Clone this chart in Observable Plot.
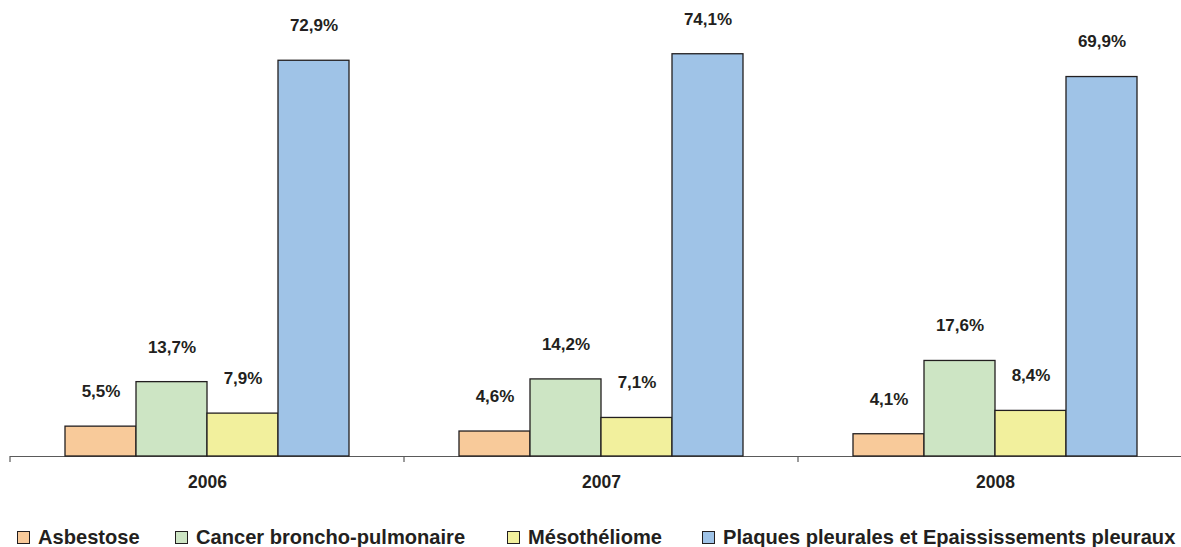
<!DOCTYPE html>
<html>
<head>
<meta charset="utf-8">
<script src="https://cdn.jsdelivr.net/npm/d3@7"></script>
<script src="https://cdn.jsdelivr.net/npm/@observablehq/plot@0.6"></script>
<style>
  html, body { margin: 0; padding: 0; background: #fff; overflow: hidden; }
  body { width: 1181px; height: 547px; font-family: "Liberation Sans", Arial, sans-serif; }
  #chart { width: 1181px; overflow: hidden; height: 505px; }
  #chart svg { max-width: none !important; }
  #legend { position: relative; height: 42px; width: 1181px; }
  .item { position: absolute; top: 21px; display: flex; align-items: center; font-weight: bold; font-size: 20.1px; color: #231f20; white-space: nowrap; }
  .sw { width: 11px; height: 11px; border: 1px solid #231f20; margin-right: 8px; }
</style>
</head>
<body>
<div id="chart"></div>
<div id="legend"></div>
<script>
const years = ["2006", "2007", "2008"];
const series = ["Asbestose", "Cancer broncho-pulmonaire", "Mésothéliome", "Plaques pleurales et Epaississements pleuraux"];
const asbestose = [5.5, 4.6, 4.1];
const cancer = [13.7, 14.2, 17.6];
const mesotheliome = [7.9, 7.1, 8.4];
const plaques = [72.9, 74.1, 69.9];
const colors = ["#f8ca9a", "#cde5c4", "#f2f09d", "#9fc3e7"];

const valuesBySerie = [asbestose, cancer, mesotheliome, plaques];
const data = [];
years.forEach((yr, i) => {
  series.forEach((s, j) => data.push({year: yr, serie: s, value: valuesBySerie[j][i]}));
});
const fmt = v => v.toFixed(1).replace(".", ",") + "%";

const chart = Plot.plot({
  width: 1192,
  height: 505,
  marginLeft: 10,
  marginRight: 0,
  marginTop: 0,
  marginBottom: 49,
  style: {fontFamily: "'Liberation Sans', Arial, sans-serif", background: "#fff", maxWidth: "none"},
  fx: {domain: years, padding: 0, label: null},
  x: {domain: series, paddingInner: 0, paddingOuter: 0.75, axis: null},
  y: {domain: [0, 84], axis: null},
  color: {domain: series, range: colors},
  marks: [
    Plot.ruleY([0], {stroke: "#5a5a5a", strokeWidth: 1.2}),
    Plot.barY(data, {fx: "year", x: "serie", y: "value", fill: "serie", stroke: "#231f20", strokeWidth: 1.3}),
    Plot.text(data, {fx: "year", x: "serie", y: "value", text: d => fmt(d.value), dy: -35, fontSize: 17, fontWeight: "bold", fill: "#231f20"}),
    Plot.axisFx({anchor: "bottom", tickSize: 0, tickPadding: 19, label: null, fontSize: 17.5, fontWeight: "bold", fill: "#231f20"})
  ]
});
document.getElementById("chart").appendChild(chart);

// boundary ticks between year groups, from the library scales
const fx = chart.scale("fx");
const y = chart.scale("y");
const y0 = y.apply(0);
const bounds = years.map(yr => fx.apply(yr)).concat([fx.apply(years[years.length - 1]) + fx.bandwidth]);
const g = d3.select(chart).append("g").attr("stroke", "#5a5a5a").attr("stroke-width", 1.2);
bounds.forEach(bx => g.append("line").attr("x1", bx).attr("x2", bx).attr("y1", y0).attr("y2", y0 + 6));

// legend
const legendLeft = [17, 175, 507, 702];
const legend = d3.select("#legend");
series.forEach((s, i) => {
  const it = legend.append("div").attr("class", "item").style("left", legendLeft[i] + "px");
  it.append("div").attr("class", "sw").style("background", colors[i]);
  it.append("span").text(s);
});
</script>
</body>
</html>
